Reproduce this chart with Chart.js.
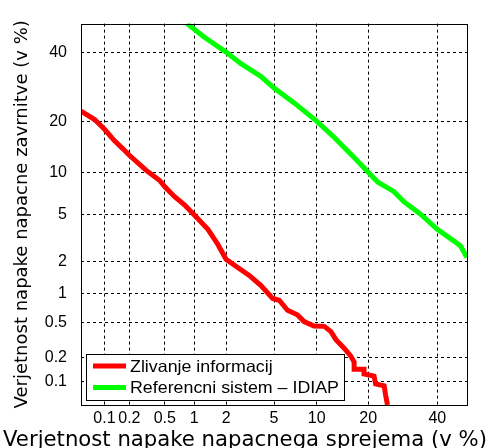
<!DOCTYPE html>
<html><head><meta charset="utf-8">
<script src="https://cdn.jsdelivr.net/npm/chart.js@4/dist/chart.umd.min.js"></script>
<style>html,body{margin:0;padding:0;background:#fff}#wrap{width:491px;height:448px}</style>
</head><body><div id="wrap"><canvas id="c" width="491" height="448"></canvas></div>
<script>
// ---- data (percent) ----
const tickLabels = ['0.1','0.2','0.5','1','2','5','10','20','40'];
const seriesNames = ['Zlivanje informacij', 'Referencni sistem – IDIAP'];
const xTitle = 'Verjetnost napake napacnega sprejema (v %)';
const yTitle = 'Verjetnost napake napacne zavrnitve (v %)';
const axisMinPct = 0.05, axisMaxPct = 50;

const fusionFA = [0.05, 0.075, 0.1, 0.133, 0.168, 0.2, 0.31, 0.44, 0.5, 0.63, 0.8, 1.0, 1.36, 1.68, 2.0, 2.53, 3.17, 3.95, 4.88, 5.47, 6.3, 7.4, 8.25, 9.6, 11.2, 12.3, 13.2, 14.7, 16.1, 16.8, 16.8, 19.0, 19.0, 21.4, 21.8, 24.0, 24.4, 24.9];
const fusionFR = [22.5, 20.4, 18.1, 15.6, 14.0, 12.8, 10.3, 8.8, 7.95, 6.8, 5.9, 4.96, 3.8, 2.85, 2.1, 1.77, 1.49, 1.19, 0.885, 0.85, 0.67, 0.6, 0.507, 0.455, 0.45, 0.394, 0.32, 0.257, 0.206, 0.175, 0.143, 0.143, 0.125, 0.118, 0.094, 0.089, 0.067, 0.05];
const refFA = [0.85, 1.26, 2.0, 2.7, 3.95, 5.0, 7.03, 10.0, 12.9, 16.8, 20.0, 22.3, 26.7, 29.6, 34.6, 40.0, 45.6, 47.8, 50.0];
const refFR = [50, 45.3, 40.3, 36.5, 32.4, 28.9, 24.7, 20.0, 16.3, 12.4, 10.0, 8.6, 7.35, 6.2, 5.0, 3.8, 3.03, 2.75, 2.18];

// inverse normal CDF (Acklam)
function probit(p){
  const a=[-3.969683028665376e+01,2.209460984245205e+02,-2.759285104469687e+02,1.383577518672690e+02,-3.066479806614716e+01,2.506628277459239e+00];
  const b=[-5.447609879822406e+01,1.615858368580409e+02,-1.556989798598866e+02,6.680131188771972e+01,-1.328068155288572e+01];
  const c=[-7.784894002430293e-03,-3.223964580411365e-01,-2.400758277161838e+00,-2.549732539343734e+00,4.374664141464968e+00,2.938163982698783e+00];
  const d=[7.784695709041462e-03,3.224671290700398e-01,2.445134137142996e+00,3.754408661907416e+00];
  const pl=0.02425, ph=1-pl; let q,r;
  if(p<pl){q=Math.sqrt(-2*Math.log(p));return (((((c[0]*q+c[1])*q+c[2])*q+c[3])*q+c[4])*q+c[5])/((((d[0]*q+d[1])*q+d[2])*q+d[3])*q+1);}
  if(p<=ph){q=p-0.5;r=q*q;return (((((a[0]*r+a[1])*r+a[2])*r+a[3])*r+a[4])*r+a[5])*q/(((((b[0]*r+b[1])*r+b[2])*r+b[3])*r+b[4])*r+1);}
  q=Math.sqrt(-2*Math.log(1-p));return -(((((c[0]*q+c[1])*q+c[2])*q+c[3])*q+c[4])*q+c[5])/((((d[0]*q+d[1])*q+d[2])*q+d[3])*q+1);
}
const toPts = (fa, fr) => fa.map((v,i)=>({x: probit(v/100), y: probit(fr[i]/100)}));

const setTicks = s => { s.ticks = tickLabels.map(t => ({value: probit(parseFloat(t)/100)})); };
const tickFont = {family: 'Liberation Sans, Arial, sans-serif', size: 16};

const framePlugin = {
  id: 'frameLegend',
  afterDatasetsDraw(chart){
    const {ctx, chartArea: a} = chart;
    ctx.save();
    ctx.strokeStyle = '#000'; ctx.lineWidth = 1; ctx.setLineDash([]);
    ctx.strokeRect(Math.round(a.left)+0.5, Math.round(a.top)+0.5, Math.round(a.right-a.left), Math.round(a.bottom-a.top));
    // legend
    const bx = 86, by = 354, bw = 258, bh = 46;
    ctx.fillStyle = '#fff'; ctx.fillRect(bx, by, bw, bh);
    ctx.strokeRect(bx+0.5, by+0.5, bw, bh);
    ctx.font = '16.5px "Liberation Sans", Arial, sans-serif';
    ctx.textBaseline = 'middle'; ctx.textAlign = 'left';
    const maxW = Math.max(...chart.data.datasets.map(ds => ctx.measureText(ds.label).width));
    const sx = 209 / maxW;
    chart.data.datasets.forEach((ds, i) => {
      const y = 366 + i*21.5;
      ctx.strokeStyle = ds.borderColor; ctx.lineWidth = 5;
      ctx.beginPath(); ctx.moveTo(93, y); ctx.lineTo(126, y); ctx.stroke();
      ctx.fillStyle = '#000';
      ctx.save(); ctx.translate(130, y+1); ctx.scale(sx, 1);
      ctx.fillText(ds.label, 0, 0);
      ctx.restore();
    });
    // x title
    ctx.font = '20.5px "DejaVu Sans", sans-serif';
    ctx.textAlign = 'center'; ctx.textBaseline = 'alphabetic';
    const tw = ctx.measureText(xTitle).width;
    ctx.save(); ctx.translate(245, 446); ctx.scale(484 / tw, 1);
    ctx.fillText(xTitle, 0, 0);
    ctx.restore();
    ctx.restore();
  }
};

new Chart(document.getElementById('c'), {
  type: 'line',
  data: {
    datasets: [
      {label: seriesNames[0], data: toPts(fusionFA, fusionFR), borderColor: '#ff0000', backgroundColor: '#ff0000', borderWidth: 5, pointRadius: 0, tension: 0, clip: 0},
      {label: seriesNames[1], data: toPts(refFA, refFR), borderColor: '#00ff00', backgroundColor: '#00ff00', borderWidth: 5, pointRadius: 0, tension: 0, clip: 0}
    ]
  },
  options: {
    responsive: false, animation: false,
    layout: {padding: {top: 20, right: 24, left: 0, bottom: 0}},
    plugins: {legend: {display: false}, tooltip: {enabled: false}},
    scales: {
      x: {
        type: 'linear', min: probit(axisMinPct/100), max: probit(axisMaxPct/100),
        afterBuildTicks: setTicks,
        afterFit: s => { s.height = 43; },
        ticks: {autoSkip: false, maxRotation: 0, minRotation: 0, padding: 4, color: '#000', font: tickFont,
                callback: (v, i) => tickLabels[i]},
        grid: {color: '#000', lineWidth: 1, drawTicks: false},
        border: {display: false, dash: [3, 3]}
      },
      y: {
        type: 'linear', min: probit(axisMinPct/100), max: probit(axisMaxPct/100),
        afterBuildTicks: setTicks,
        afterFit: s => { s.width = 81; },
        ticks: {autoSkip: false, padding: 14, color: '#000', font: tickFont,
                callback: (v, i) => tickLabels[i]},
        grid: {color: '#000', lineWidth: 1, drawTicks: false},
        border: {display: false, dash: [3, 3]},
        title: {display: true, text: yTitle, color: '#000', font: {family: 'DejaVu Sans', size: 18, lineHeight: 1}, padding: {top: 13, bottom: 0}}
      }
    }
  },
  plugins: [framePlugin]
});
</script></body></html>
